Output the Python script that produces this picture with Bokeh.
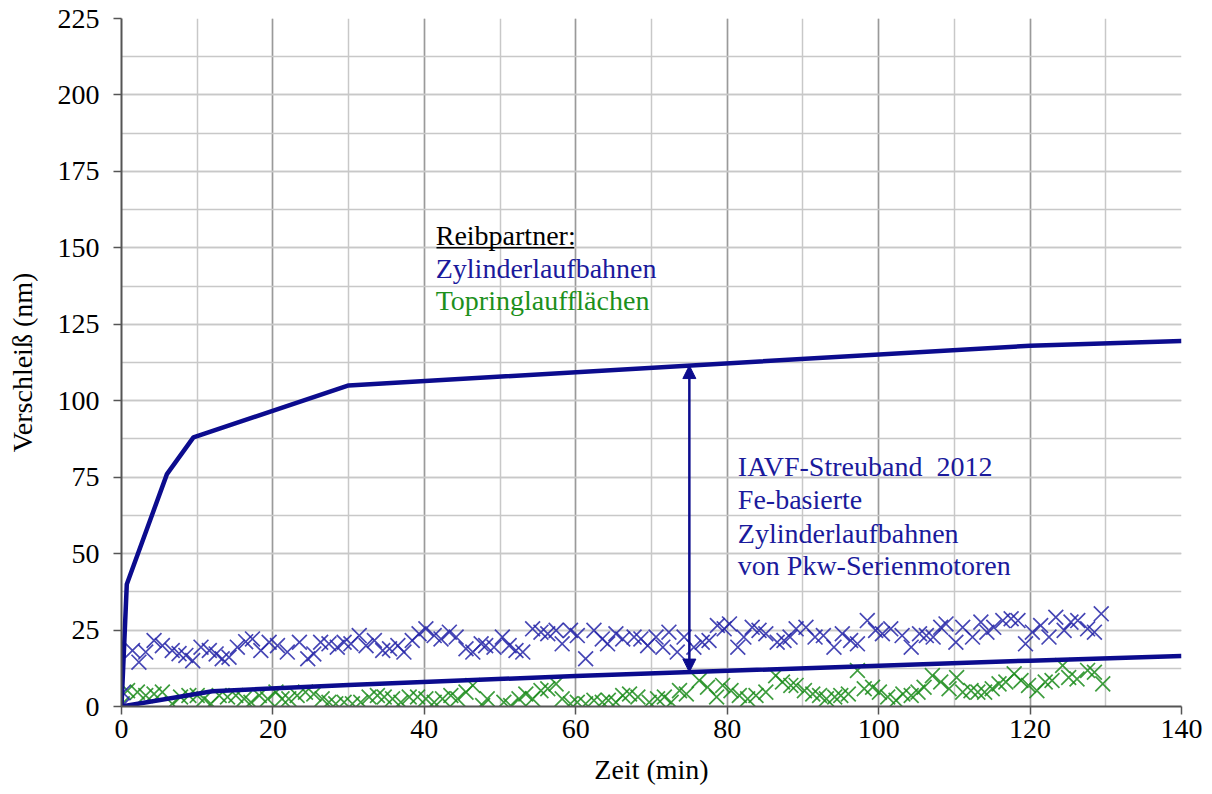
import numpy as np
from bokeh.plotting import figure
from bokeh.models import (SingleIntervalTicker, Label, Arrow, NormalHead, Range1d)
from bokeh.embed import file_html
from bokeh.resources import INLINE

# ---------------- data ----------------
# envelope curves of the scatter band (Zeit in min, Verschleiss in nm)
upper_t = [0, 0.7, 6, 9.5, 30, 120, 140]
upper_v = [0, 40, 76, 88, 105, 118, 119.5]
lower_t = [0, 12, 30, 60, 120, 140]
lower_v = [0, 5, 7, 10, 15, 16.5]

# Zylinderlaufbahnen (blue crosses)
blue_t = [0, 0.2, 1.45, 2.3, 3.2, 4.3, 5.4, 6.7, 7.6, 8.5,
          9.4, 10.5, 11.6, 12.5, 13.3, 14.2, 15.3, 16.4, 17.3, 18.4,
          19.5, 20.6, 21.9, 23.5, 24.6, 25.4, 26.3, 27.4, 28.5, 29.4,
          30.3, 31.4, 32.3, 33.4, 34.5, 35.4, 36.5, 37.3, 38.4, 39.3,
          40.2, 41.3, 42.2, 43.3, 44.2, 45.5, 46.4, 47.5, 48.1, 49.2,
          50.3, 51.2, 52.1, 53.0, 54.3, 55.4, 56.3, 57.4, 58.2, 59.3,
          60.2, 61.3, 62.4, 63.5, 64.2, 65.3, 66.2, 67.7, 68.6, 69.5,
          70.6, 71.5, 72.3, 73.4, 74.3, 75.6, 76.7, 77.6, 78.7, 79.6,
          80.3, 81.4, 82.2, 83.3, 84.2, 85.1, 86.6, 87.5, 88.3, 89.1,
          90.4, 91.6, 92.7, 94.1, 95.2, 96.3, 97.2, 98.5, 99.6, 100.5,
          101.6, 103.1, 104.3, 105.4, 106.3, 107.2, 108.2, 108.9, 110.2, 111.1,
          112.4, 113.5, 114.3, 115.2, 116.4, 117.5, 118.4, 119.4, 120.3, 121.4,
          122.5, 123.4, 124.5, 125.4, 126.3, 127.6, 128.5, 129.4]
blue_v = [0, 4.5, 18.3, 14.5, 17.8, 21.6, 19.9, 18.3, 17.3, 16.7,
          15.0, 19.4, 18.3, 17.2, 15.6, 16.1, 19.4, 21.2, 22.1, 18.3,
          21.0, 19.9, 17.8, 21.0, 15.6, 17.2, 21.0, 20.5, 19.4, 21.0,
          20.5, 23.2, 19.9, 21.6, 18.3, 18.9, 19.9, 17.8, 21.6, 23.8,
          25.4, 23.2, 22.1, 24.3, 22.7, 18.9, 17.8, 20.5, 19.9, 19.4,
          22.7, 19.9, 18.3, 17.8, 25.4, 24.3, 23.8, 24.9, 20.5, 24.9,
          23.2, 15.6, 24.9, 22.1, 20.5, 23.8, 22.1, 22.7, 22.1, 19.9,
          22.7, 19.4, 24.3, 17.8, 22.7, 19.4, 21.0, 21.6, 26.5, 25.4,
          27.0, 19.4, 22.7, 25.9, 24.9, 23.8, 21.0, 21.6, 22.7, 25.4,
          25.9, 22.7, 23.2, 19.4, 23.8, 21.6, 20.5, 28.1, 24.9, 23.8,
          25.4, 23.2, 19.4, 23.8, 23.2, 22.7, 25.9, 27.0, 21.0, 25.9,
          22.7, 27.6, 24.3, 25.9, 28.1, 28.7, 28.1, 20.5, 24.3, 26.5,
          22.7, 29.2, 24.9, 27.6, 28.1, 25.4, 24.3, 30.3]

# Topringlaufflaechen (green crosses)
green_t = [0.1, 0.8, 2.1, 3.2, 4.3, 5.4, 6.7, 7.8, 8.9, 10.0,
           10.9, 11.8, 12.9, 14.0, 15.1, 16.2, 17.1, 18.2, 19.3, 20.4,
           21.2, 22.1, 23.2, 24.3, 25.4, 26.5, 27.4, 28.3, 29.4, 30.5,
           31.6, 32.7, 33.8, 34.7, 35.8, 36.9, 38.0, 39.1, 40.2, 41.3,
           42.4, 43.5, 44.4, 45.5, 46.4, 47.7, 48.3, 50.5, 51.4, 52.5,
           53.4, 54.3, 55.4, 56.3, 57.4, 58.2, 59.3, 60.2, 61.3, 62.4,
           63.5, 64.3, 65.3, 66.2, 67.1, 68.2, 69.7, 70.8, 71.7, 72.6,
           73.7, 74.6, 76.3, 77.4, 78.6, 79.4, 80.5, 81.6, 82.7, 83.8,
           85.1, 86.4, 87.3, 88.4, 89.1, 90.2, 91.3, 92.2, 93.1, 94.2,
           95.0, 96.0, 97.2, 98.1, 99.2, 100.1, 101.2, 102.3, 103.2, 104.3,
           105.2, 106.0, 107.1, 108.2, 109.3, 110.3, 111.1, 112.2, 113.1, 114.0,
           115.0, 115.9, 116.8, 117.9, 118.8, 119.8, 120.9, 122.0, 122.9, 124.3,
           125.1, 126.2, 127.6, 128.5, 129.6]
green_v = [0.9, 5.2, 4.7, 3.6, 4.1, 4.7, 0.9, 3.1, 3.6, 3.6,
           2.5, 0.9, 3.6, 3.1, 3.6, 2.5, 1.4, 3.6, 2.5, 4.7,
           2.5, 2.5, 3.6, 4.7, 4.1, 2.5, 1.4, 0.9, 1.4, 0.9,
           1.4, 3.1, 3.6, 3.1, 2.5, 1.4, 3.1, 3.1, 2.5, 1.4,
           2.5, 3.6, 2.5, 4.7, 6.9, 0.3, 2.5, 1.4, 0.3, 2.5,
           4.1, 2.5, 5.2, 5.8, 7.4, 2.5, 0.9, 1.4, 0.9, 2.0,
           1.4, 2.0, 1.4, 3.6, 4.1, 3.1, 1.4, 2.5, 3.1, 1.4,
           5.2, 4.1, 8.5, 6.3, 3.1, 6.9, 5.2, 3.6, 2.5, 3.6,
           4.7, 10.1, 8.0, 6.9, 6.9, 5.2, 4.1, 3.6, 2.5, 3.1,
           3.6, 4.1, 11.8, 5.8, 6.3, 4.7, 3.1, 2.0, 4.1, 3.6,
           4.7, 6.3, 10.1, 8.0, 5.8, 9.5, 4.7, 5.2, 4.7, 4.7,
           5.8, 7.4, 8.0, 10.7, 8.5, 6.9, 5.2, 8.0, 8.5, 13.4,
           9.5, 9.0, 11.8, 11.2, 7.4]

x_ticks_step = 20
y_ticks_step = 25
arrow_t = 75

legend_title = "Reibpartner:"
legend_blue = "Zylinderlaufbahnen"
legend_green = "Topringlaufflächen"
band_text = ["IAVF-Streuband\u00a0\u00a02012", "Fe-basierte", "Zylinderlaufbahnen", "von Pkw-Serienmotoren"]

# ---------------- style ----------------
FONT = "Liberation Serif"
FS = "28px"
NAVY = "#0c0c8e"
BLUE_M = "#2626a8"
GREEN_M = "#1c8c1c"
TXT_BLUE = "#1a1a9c"
TXT_GREEN = "#1c901c"

p = figure(width=1212, height=794, output_backend="svg", toolbar_location=None,
           x_range=Range1d(0, 140), y_range=Range1d(0, 225),
           min_border_left=121, min_border_right=31, min_border_top=18, min_border_bottom=88)
p.outline_line_color = None
p.background_fill_color = "white"
p.border_fill_color = "white"

p.xaxis.ticker = SingleIntervalTicker(interval=x_ticks_step, num_minor_ticks=2)
p.yaxis.ticker = SingleIntervalTicker(interval=y_ticks_step, num_minor_ticks=2)

p.xgrid.grid_line_color = "#9a9a9a"
p.xgrid.grid_line_width = 1.5
p.xgrid.minor_grid_line_color = "#c8c8c8"
p.xgrid.minor_grid_line_width = 1.5
p.ygrid.grid_line_color = "#c8c8c8"
p.ygrid.grid_line_width = 1.5
p.ygrid.minor_grid_line_color = "#c8c8c8"
p.ygrid.minor_grid_line_width = 1.5

for ax in (p.xaxis, p.yaxis):
    ax.axis_line_color = "#555555"
    ax.axis_line_width = 2
    ax.major_tick_line_color = "#555555"
    ax.major_tick_line_width = 1.5
    ax.major_tick_out = 8
    ax.major_tick_in = 0
    ax.minor_tick_line_color = None
    ax.major_label_text_font = FONT
    ax.major_label_text_font_size = FS
    ax.major_label_text_color = "black"
    ax.axis_label_text_font = FONT
    ax.axis_label_text_font_size = FS
    ax.axis_label_text_font_style = "normal"
    ax.axis_label_text_color = "black"

p.xaxis.axis_label = "Zeit (min)"
p.yaxis.axis_label = "Verschleiß (nm)"
p.xaxis.major_label_standoff = 5
p.yaxis.major_label_standoff = 14
p.xaxis.axis_label_standoff = 13
p.yaxis.axis_label_standoff = 17

# scatter
p.scatter(green_t, green_v, marker="x", size=21, line_color=GREEN_M, line_width=1.7, line_alpha=0.85)
p.scatter(blue_t, blue_v, marker="x", size=21, line_color=BLUE_M, line_width=1.7, line_alpha=0.85)

# envelope curves
p.line(upper_t, upper_v, line_color=NAVY, line_width=4.5)
p.line(lower_t, lower_v, line_color=NAVY, line_width=4.5)

# double arrow between envelopes
a_lo = float(np.interp(arrow_t, lower_t, lower_v))
a_hi = float(np.interp(arrow_t, upper_t, upper_v))
p.add_layout(Arrow(x_start=arrow_t, y_start=a_lo, x_end=arrow_t, y_end=a_hi,
                   line_color=NAVY, line_width=2.5,
                   start=NormalHead(size=13, line_color=NAVY, fill_color=NAVY),
                   end=NormalHead(size=13, line_color=NAVY, fill_color=NAVY)))

# legend-like texts
def lab(x, y, txt, color):
    l = Label(x=x, y=y, text=txt, text_font=FONT, text_font_size=FS,
              text_color=color, text_baseline="middle", text_align="left")
    p.add_layout(l)
    return l

lab(41.5, 154, legend_title, "black")
lab(41.5, 143.2, legend_blue, TXT_BLUE)
lab(41.5, 132.8, legend_green, TXT_GREEN)
# underline of "Reibpartner:"
p.line([41.6, 59.8], [150.0, 150.0], line_color="black", line_width=1.5)

ys = [78.5, 67.7, 56.6, 46.1]
for yy, tx in zip(ys, band_text):
    lab(81.4, yy, tx, TXT_BLUE)

open("out.html", "w").write(file_html(p, INLINE))
